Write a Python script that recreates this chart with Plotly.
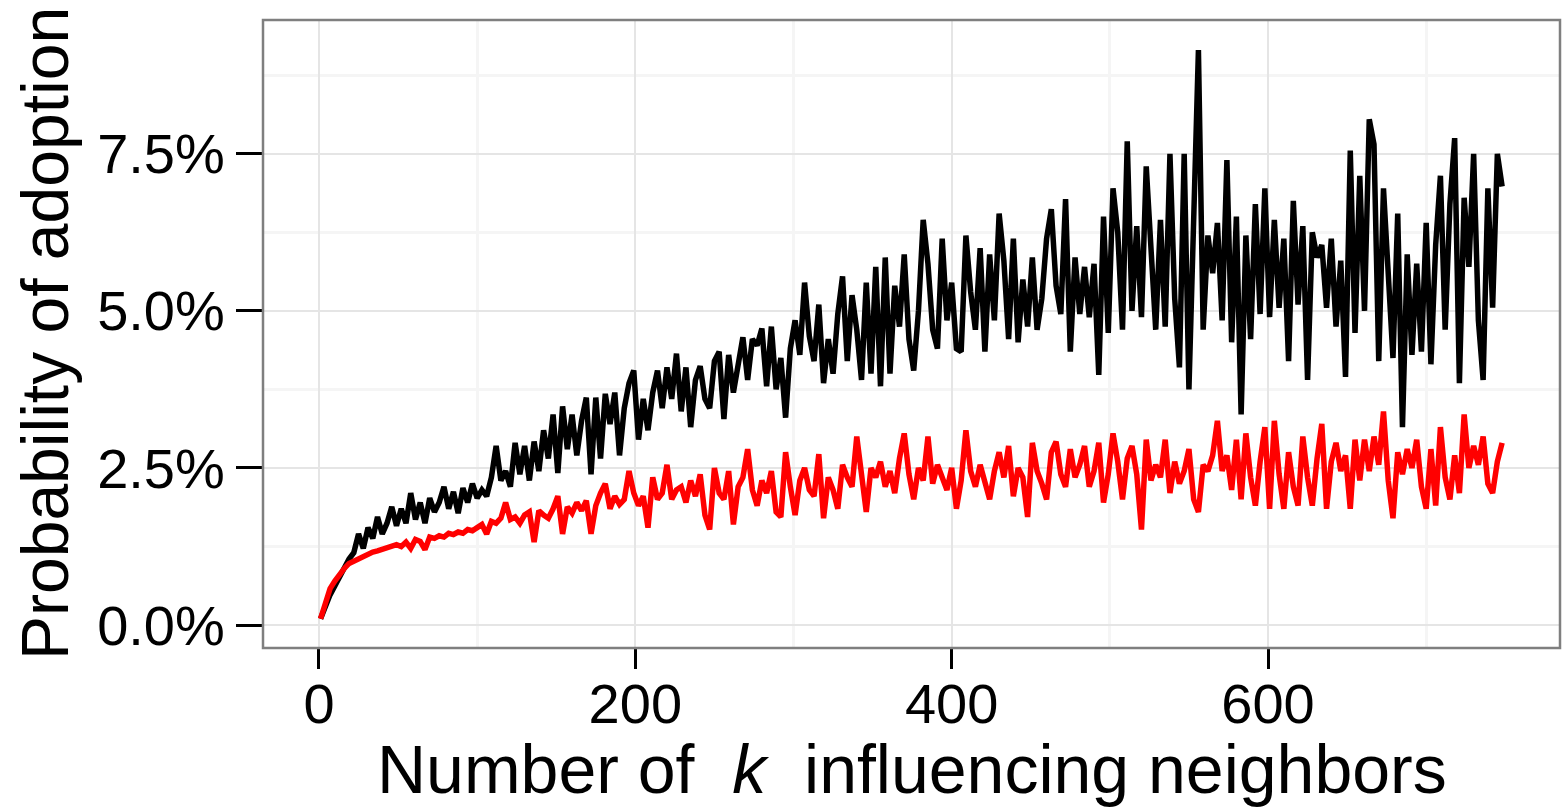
import plotly.graph_objects as go

# Number of influencing neighbours (k), sampled every third value
k_values = list(range(1, 751, 3))

# Adoption probability (%) - black series
black_pct = [
    0.10, 0.30, 0.48, 0.62, 0.78, 0.90, 1.05, 1.15, 1.45, 1.22,
    1.55, 1.38, 1.72, 1.45, 1.62, 1.88, 1.58, 1.85, 1.62, 2.10,
    1.68, 1.95, 1.62, 2.02, 1.80, 1.95, 2.20, 1.85, 2.12, 1.78,
    2.18, 1.95, 2.25, 2.02, 2.15, 2.05, 2.35, 2.85, 2.30, 2.45,
    2.20, 2.90, 2.40, 2.85, 2.30, 2.92, 2.45, 3.10, 2.65, 3.35,
    2.42, 3.48, 2.80, 3.35, 2.70, 3.25, 3.62, 2.40, 3.62, 2.65,
    3.68, 3.20, 3.70, 2.70, 3.45, 3.85, 4.05, 2.95, 3.60, 3.10,
    3.70, 4.05, 3.45, 4.10, 3.60, 4.32, 3.40, 4.10, 3.15, 3.90,
    4.12, 3.60, 3.45, 4.20, 4.35, 3.28, 4.30, 3.70, 4.10, 4.58,
    3.90, 4.55, 4.45, 4.72, 3.80, 4.75, 3.75, 4.25, 3.30, 4.40,
    4.85, 4.30, 5.45, 4.60, 4.20, 5.10, 3.85, 4.55, 4.00, 4.95,
    5.55, 4.20, 5.25, 4.70, 3.90, 5.45, 4.00, 5.70, 3.80, 5.85,
    4.00, 5.40, 4.75, 5.90, 4.55, 4.05, 5.00, 6.45, 5.75, 4.70,
    4.40, 6.15, 4.85, 5.45, 4.40, 4.35, 6.20, 5.30, 4.70, 6.00,
    4.35, 5.90, 4.85, 6.55, 5.80, 4.55, 6.15, 4.50, 5.50, 4.75,
    5.85, 4.70, 5.20, 6.15, 6.62, 5.40, 4.95, 6.78, 4.35, 5.85,
    4.95, 5.70, 4.90, 5.75, 3.98, 6.50, 4.65, 6.95, 6.25, 4.70,
    7.70, 5.00, 6.35, 4.90, 7.30, 5.80, 4.70, 6.45, 4.75, 7.50,
    5.20, 4.10, 7.50, 3.75, 6.30, 9.15, 4.70, 6.20, 5.60, 6.40,
    4.85, 7.40, 4.50, 6.50, 3.35, 6.20, 4.55, 6.70, 4.95, 6.95,
    4.90, 6.45, 5.05, 6.15, 4.20, 6.75, 5.10, 6.35, 3.90, 6.25,
    5.85, 6.05, 5.05, 6.15, 4.75, 5.80, 3.95, 7.55, 4.65, 7.15,
    5.00, 8.05, 7.65, 4.20, 6.95, 5.40, 4.25, 6.55, 3.15, 5.90,
    4.30, 5.75, 4.35, 6.40, 4.15, 6.05, 7.15, 4.70, 6.70, 7.75,
    3.85, 6.80, 5.70, 7.50, 4.85, 3.90, 6.95, 5.05, 7.50, 6.98,
]

# Adoption probability (%) - red series
red_pct = [
    0.10, 0.38, 0.58, 0.70, 0.82, 0.90, 0.98, 1.02, 1.06, 1.10,
    1.12, 1.16, 1.18, 1.20, 1.24, 1.26, 1.28, 1.25, 1.32, 1.22,
    1.36, 1.33, 1.20, 1.40, 1.38, 1.42, 1.40, 1.46, 1.44, 1.48,
    1.46, 1.52, 1.50, 1.55, 1.60, 1.45, 1.65, 1.62, 1.70, 1.95,
    1.68, 1.72, 1.62, 1.75, 1.80, 1.32, 1.82, 1.75, 1.70, 1.85,
    2.05, 1.45, 1.88, 1.78, 1.95, 1.82, 1.98, 1.45, 1.90, 2.10,
    2.25, 1.85, 2.05, 1.92, 2.00, 2.45, 2.10, 1.90, 2.05, 1.55,
    2.35, 2.00, 2.10, 2.55, 2.00, 2.15, 2.20, 1.95, 2.30, 2.05,
    2.40, 1.75, 1.52, 2.50, 2.10, 2.00, 2.45, 1.60, 2.20, 2.35,
    2.80, 2.15, 1.90, 2.30, 2.10, 2.45, 1.80, 1.72, 2.75, 2.20,
    1.75, 2.30, 2.50, 2.15, 2.05, 2.72, 1.70, 2.35, 2.15, 1.85,
    2.55, 2.35, 2.20, 3.00, 2.30, 1.80, 2.50, 2.35, 2.60, 2.20,
    2.45, 2.10, 2.65, 3.05, 2.40, 2.00, 2.50, 2.30, 3.00, 2.25,
    2.55, 2.35, 2.15, 2.50, 1.85, 2.30, 3.10, 2.45, 2.20, 2.55,
    2.30, 2.00, 2.45, 2.75, 2.35, 2.85, 2.05, 2.50, 2.35, 1.72,
    2.90, 2.45, 2.25, 2.00, 2.75, 2.92, 2.40, 2.20, 2.80, 2.35,
    2.55, 2.85, 2.20, 2.45, 2.90, 1.95, 2.40, 3.05, 2.60, 2.00,
    2.65, 2.85, 2.40, 1.52, 2.95, 2.30, 2.55, 2.35, 2.95, 2.10,
    2.60, 2.25, 2.45, 2.80, 2.00, 1.80, 2.55, 2.45, 2.70, 3.25,
    2.45, 2.70, 2.15, 2.95, 2.00, 3.05, 2.35, 1.90, 2.60, 3.15,
    1.85, 3.25, 2.40, 1.85, 2.75, 2.20, 1.90, 3.00, 2.35, 1.90,
    2.65, 3.20, 1.85, 2.60, 2.90, 2.45, 2.70, 1.85, 2.95, 2.30,
    2.95, 2.45, 3.00, 2.55, 3.40, 2.30, 1.70, 2.75, 2.40, 2.80,
    2.50, 2.95, 2.20, 1.85, 2.80, 1.90, 3.15, 2.35, 2.00, 2.70,
    2.10, 3.35, 2.50, 2.85, 2.55, 3.00, 2.25, 2.10, 2.60, 2.90,
]

x_ticks = [0, 200, 400, 600]
x_minor = [100, 300, 500, 700]
y_ticks = [0, 2.5, 5, 7.5]
y_tick_text = ["0.0%", "2.5%", "5.0%", "7.5%"]
y_minor = [1.25, 3.75, 6.25, 8.75]

FONT = "Liberation Sans, Arial, sans-serif"

fig = go.Figure()
fig.add_trace(go.Scatter(x=k_values, y=black_pct, mode="lines",
                         line=dict(color="black", width=5.5), hoverinfo="skip"))
fig.add_trace(go.Scatter(x=k_values, y=red_pct, mode="lines",
                         line=dict(color="#ff0000", width=5.5), hoverinfo="skip"))

axis_common = dict(
    ticks="outside", tickwidth=3, tickcolor="black",
    showgrid=True, gridcolor="#e5e5e5", gridwidth=2,
    zeroline=False, showline=False,
    tickfont=dict(family=FONT, size=56, color="black"),
)

fig.update_layout(
    width=1563, height=808,
    margin=dict(l=263, r=3, t=20, b=160),
    paper_bgcolor="white", plot_bgcolor="white",
    showlegend=False,
    font=dict(family=FONT, color="black"),
    xaxis=dict(range=[-35.4, 784.6], tickvals=x_ticks, ticklen=20,
               ticklabelstandoff=-13,
               minor=dict(tickvals=x_minor, showgrid=True,
                          gridcolor="#f5f5f5", gridwidth=2.5),
               **axis_common),
    yaxis=dict(range=[-0.366, 9.63], tickvals=y_ticks, ticktext=y_tick_text,
               ticklen=26,
               minor=dict(tickvals=y_minor, showgrid=True,
                          gridcolor="#f5f5f5", gridwidth=2.5),
               **axis_common),
    shapes=[dict(type="rect", xref="paper", yref="paper", x0=0, x1=1, y0=0, y1=1,
                 line=dict(color="#7f7f7f", width=2.5), layer="above")],
    annotations=[
        dict(text="Number of\u00a0 <i>k</i> \u00a0influencing neighbors",
             xref="paper", yref="paper", x=0.5, y=0, xanchor="center",
             yanchor="middle", yshift=-121, showarrow=False,
             font=dict(family=FONT, size=68, color="black")),
        dict(text="Probability of adoption",
             xref="paper", yref="paper", x=0, y=0.5, xanchor="center",
             yanchor="middle", xshift=-218, textangle=-90, showarrow=False,
             font=dict(family=FONT, size=66, color="black")),
    ],
)

fig.write_html("out.html", config={"displayModeBar": False})
